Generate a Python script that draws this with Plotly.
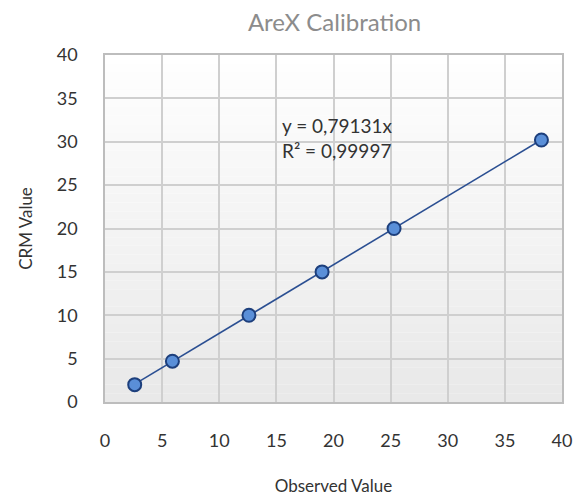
import plotly.graph_objects as go

observed = [2.6, 5.9, 12.6, 19.0, 25.3, 38.2]
crm = [2.0, 4.7, 10.0, 15.0, 20.0, 30.2]
slope = 0.79131
r2_text = "0,99997"
title = "AreX Calibration"

x_fit = [min(observed), max(observed)]
y_fit = [slope * v for v in x_fit]

fig = go.Figure()
fig.add_trace(go.Scatter(x=x_fit, y=y_fit, mode="lines",
                         line=dict(color="#2b4f92", width=1.6), hoverinfo="skip"))
fig.add_trace(go.Scatter(x=observed, y=crm, mode="markers",
                         marker=dict(size=13, color="#5a8fd8",
                                     line=dict(color="#1d3f7c", width=2))))

# gradient background via stacked bands
n = 40
shapes = []
for i in range(n):
    t = i / (n - 1)
    c = int(255 - t * 22)
    shapes.append(dict(type="rect", xref="x domain", yref="y domain",
                       x0=0, x1=1, y0=1 - (i + 1) / n, y1=1 - i / n,
                       fillcolor=f"rgb({c},{c},{c})", line=dict(width=0), layer="below"))

fig.update_layout(
    width=587, height=496,
    margin=dict(l=105, r=25, t=55, b=94),
    paper_bgcolor="white", plot_bgcolor="white",
    showlegend=False,
    shapes=shapes,
    font=dict(family="Lato, Open Sans, sans-serif", color="#333333", size=18),
    title=dict(text=title, x=0.57, xanchor="center", y=0.955, yanchor="middle",
               font=dict(size=24, color="#8c8c8c")),
    annotations=[dict(text=f"y = {str(slope).replace('.', ',')}x<br>R² = {r2_text}",
                      x=15.3, y=33.4, xref="x", yref="y", xanchor="left", yanchor="top",
                      align="left", showarrow=False, font=dict(size=19, color="#333333"))],
)
fig.update_xaxes(range=[0, 40], dtick=5, showgrid=True, gridcolor="#cfcfcf", gridwidth=1.5,
                 showline=True, linecolor="#bdbdbd", linewidth=1.5, mirror=True,
                 zeroline=False, ticks="", ticklabelstandoff=22, tickfont=dict(size=18),
                 automargin=False,
                 title=dict(text="Observed Value", standoff=30, font=dict(size=17)))
fig.update_yaxes(range=[0, 40], dtick=5, showgrid=True, gridcolor="#cfcfcf", gridwidth=1.5,
                 showline=True, linecolor="#bdbdbd", linewidth=1.5, mirror=True,
                 zeroline=False, ticks="", ticklabelstandoff=22, tickfont=dict(size=18),
                 automargin=False,
                 title=dict(text="CRM Value", standoff=20, font=dict(size=17)))

fig.write_html("out.html")
